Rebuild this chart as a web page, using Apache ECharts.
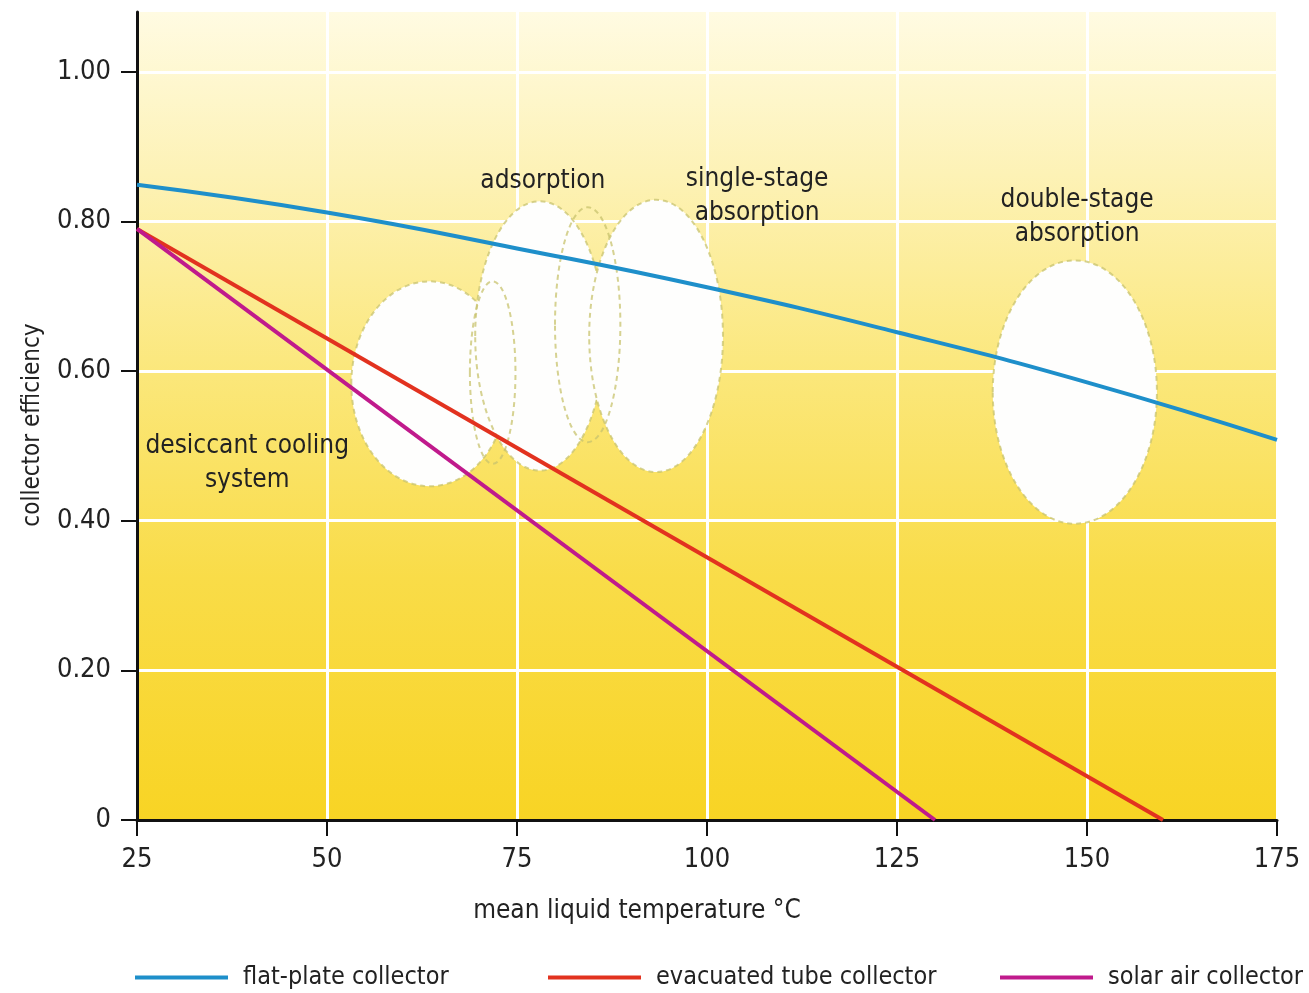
<!DOCTYPE html>
<html>
<head>
<meta charset="utf-8">
<script src="https://cdn.jsdelivr.net/npm/echarts@6/dist/echarts.min.js"></script>
<style>
html,body{margin:0;padding:0;background:#fff;}
#chart{width:1309px;height:993px;}
</style>
</head>
<body>
<div id="chart"></div>
<script>
// ---- data ----
const flatPlate = [[25, 0.849], [50, 0.812], [75, 0.764], [100, 0.712], [125, 0.652], [150, 0.585], [175, 0.508]];
const evacuatedTube = [[25, 0.79], [160, 0]];
const solarAir = [[25, 0.79], [130, 0]];
const xTicks = [25, 50, 75, 100, 125, 150, 175];
const yTicks = [0, 0.2, 0.4, 0.6, 0.8, 1.0];
const seriesNames = ['flat-plate collector', 'evacuated tube collector', 'solar air collector'];
// regions: [centre temp, centre efficiency, half-width (°C), half-height (eff), filled]
const regionNames = ['desiccant', 'adsorption', 'single-stage', 'double-stage', 'overlapA', 'overlapB'];
const regionEllipses = [
  [63.5, 0.583, 10.3, 0.137, 1],
  [78.0, 0.647, 8.5, 0.180, 1],
  [93.3, 0.647, 8.8, 0.182, 1],
  [148.4, 0.572, 10.8, 0.176, 1],
  [71.8, 0.598, 3.0, 0.122, 0],
  [84.3, 0.662, 4.3, 0.157, 0]
];
const regionLabels = [
  ['adsorption', 78.4, 0.854],
  ['single-stage\nabsorption', 106.6, 0.834],
  ['double-stage\nabsorption', 148.7, 0.805],
  ['desiccant cooling\nsystem', 39.5, 0.477]
];

const FONT = '"Liberation Sans Narrow", "Arial Narrow", "DejaVu Sans Condensed", sans-serif';
const chart = echarts.init(document.getElementById('chart'), null, {renderer: 'canvas'});

const gridBg = new echarts.graphic.LinearGradient(0, 0, 0, 1, [
  {offset: 0, color: '#fffbe2'},
  {offset: 0.2, color: '#fdf2b6'},
  {offset: 0.45, color: '#fbe77a'},
  {offset: 0.7, color: '#f9dc48'},
  {offset: 1, color: '#f8d424'}
]);

function legendFor(name, left) {
  return {
    data: [name], left: left, top: 960, icon: 'rect', itemWidth: 93, itemHeight: 4,
    textStyle: {fontFamily: FONT, fontSize: 25, color: '#222', padding: [0, 0, 0, 10]}
  };
}

const option = {
  animation: false,
  backgroundColor: '#ffffff',
  legend: [legendFor(seriesNames[0], 130), legendFor(seriesNames[1], 543), legendFor(seriesNames[2], 995)],
  grid: {left: 137, right: 32, top: 12, bottom: 173, show: true, backgroundColor: gridBg, borderWidth: 0},
  xAxis: {
    type: 'value', min: 25, max: 175, interval: 25,
    name: 'mean liquid temperature °C', nameLocation: 'middle', nameGap: 78,
    nameTextStyle: {fontFamily: FONT, fontSize: 26, color: '#222', padding: [0, 140, 0, 0]},
    axisLine: {show: true, lineStyle: {color: '#111', width: 3}},
    axisTick: {show: true, length: 16, lineStyle: {color: '#111', width: 2}},
    axisLabel: {fontFamily: FONT, fontSize: 27, color: '#222', margin: 26},
    splitLine: {show: true, lineStyle: {color: '#ffffff', width: 3}}
  },
  yAxis: {
    type: 'value', min: 0, max: 1.08, interval: 0.2,
    name: 'collector efficiency', nameLocation: 'middle', nameGap: 92,
    nameTextStyle: {fontFamily: FONT, fontSize: 24, color: '#222', padding: [0, 18, 0, 0]},
    axisLine: {show: true, lineStyle: {color: '#111', width: 3}},
    axisTick: {show: true, length: 16, lineStyle: {color: '#111', width: 2}, customValues: yTicks},
    axisLabel: {fontFamily: FONT, fontSize: 27, color: '#222', margin: 26, customValues: yTicks,
      formatter: v => v === 0 ? '0' : v.toFixed(2)},
    splitLine: {show: true, lineStyle: {color: '#ffffff', width: 3}}
  },
  series: [
    {
      type: 'custom', name: 'regions', z: 1, silent: true,
      data: regionEllipses,
      renderItem: function (params, api) {
        const c = api.coord([api.value(0), api.value(1)]);
        const s = api.size([api.value(2), api.value(3)]);
        const filled = api.value(4) === 1;
        return {
          type: 'ellipse',
          shape: {cx: c[0], cy: c[1], rx: s[0], ry: s[1]},
          style: {
            fill: filled ? '#fefefd' : null,
            stroke: 'rgba(200,195,110,0.75)', lineWidth: 2, lineDash: [5, 4]
          }
        };
      }
    },
    {
      type: 'custom', name: 'labels', z: 4, silent: true,
      data: regionLabels.map(d => [d[1], d[2]]),
      encode: {x: 0, y: 1},
      renderItem: function (params, api) {
        const c = api.coord([api.value(0), api.value(1)]);
        const txt = regionLabels[params.dataIndex][0];
        return {
          type: 'text',
          style: {text: txt, x: c[0], y: c[1], align: 'center', verticalAlign: 'middle',
            font: '26px ' + FONT, fill: '#222', lineHeight: 34}
        };
      }
    },
    {name: seriesNames[0], type: 'line', z: 3, data: flatPlate, smooth: true, showSymbol: false, color: '#1e8fca', lineStyle: {width: 4}},
    {name: seriesNames[1], type: 'line', z: 3, data: evacuatedTube, showSymbol: false, color: '#e2321f', lineStyle: {width: 4}},
    {name: seriesNames[2], type: 'line', z: 3, data: solarAir, showSymbol: false, color: '#c01a8c', lineStyle: {width: 4}}
  ]
};
chart.setOption(option);
</script>
</body>
</html>
